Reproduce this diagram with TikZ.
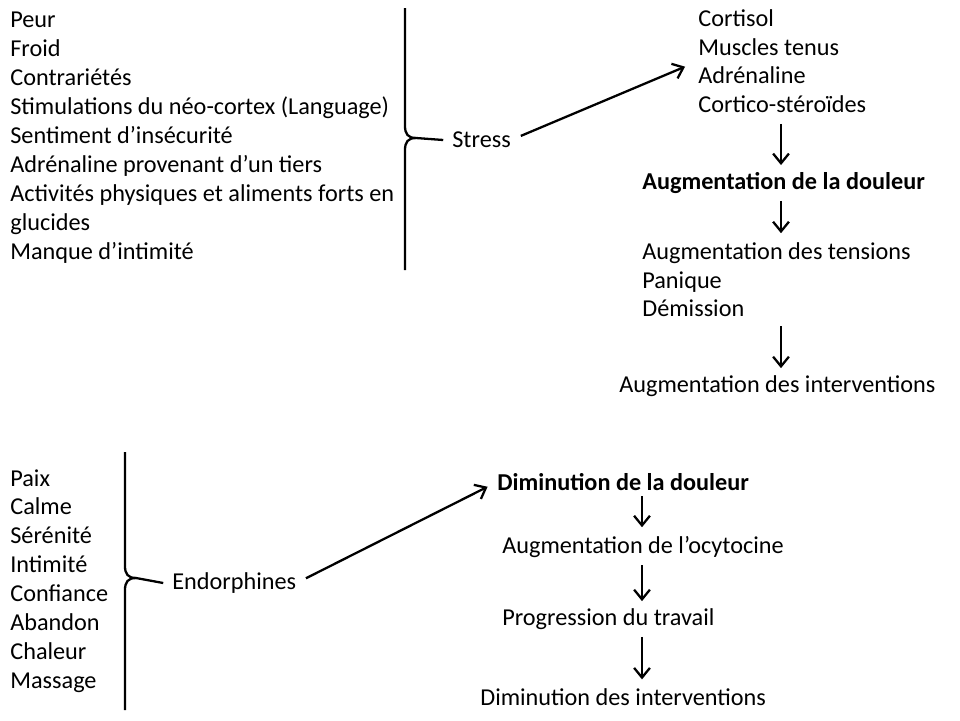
\documentclass[tikz,border=0pt]{standalone}
\usepackage{fontspec}
\setmainfont{Carlito}
\usetikzlibrary{positioning, arrows.meta, calc}
\tikzset{txt/.style={align=left, inner sep=0pt, font=\fontsize{13.8}{16.45}\selectfont},
  bold txt/.style={txt, font=\fontsize{13.8}{16.45}\selectfont\bfseries},
  link/.style={-{Straight Barb[length=5.5pt, width=9pt]}, line width=1.3pt},
  brace line/.style={line width=1.3pt},}

\begin{document}
\begin{tikzpicture}[x=0.02cm, y=-0.02cm]
				\useasboundingbox (0,0) rectangle (960,720);
				% Stress side
				\node[txt, anchor=north west] (causes) at (10,12) {Peur\\Froid\\Contrariétés\\Stimulations du néo-cortex (Language)\\Sentiment d’insécurité\\Adrénaline provenant d’un tiers\\Activités physiques et aliments forts en\\glucides\\Manque d’intimité};
				\node[txt, anchor=west] (stress) at (452,140) {Stress};
				\node[txt, anchor=north west] (hormones) at (698,9) {Cortisol\\Muscles tenus\\Adrénaline\\Cortico-stéroïdes};
				\node[bold txt, anchor=west] (augdouleur) at (642,183) {Augmentation de la douleur};
				\node[txt, anchor=north west] (tensions) at (642,242) {Augmentation des tensions\\Panique\\Démission};
				\node[txt, anchor=west] (auginterv) at (619,386) {Augmentation des interventions};
				\coordinate (colstress) at (781,0);
				% Endorphines side
				\node[txt, anchor=north west] (calm) at (10,469) {Paix\\Calme\\Sérénité\\Intimité\\Confiance\\Abandon\\Chaleur\\Massage};
				\node[txt, anchor=west] (endorph) at (172,583) {Endorphines};
				\node[bold txt, anchor=west] (dimdouleur) at (497,482) {Diminution de la douleur};
				\node[txt, anchor=west] (ocyto) at (502,547) {Augmentation de l’ocytocine};
				\node[txt, anchor=west] (travail) at (502,619) {Progression du travail};
				\node[txt, anchor=west] (diminterv) at (480,697) {Diminution des interventions};
				\coordinate (colendo) at (642,0);
				% Braces
				\draw[brace line] (405,8) -- (405,126) .. controls (405,134) and (408,138) .. (416,138) -- ([xshift=-5pt]stress.west);
				\draw[brace line] (405,270) -- (405,150) .. controls (405,142) and (408,138) .. (416,138);
				\draw[brace line] (125,452) -- (125,566) .. controls (125,574) and (128,578) .. (136,578) -- ([xshift=-5pt]endorph.west);
				\draw[brace line] (125,710) -- (125,590) .. controls (125,582) and (128,578) .. (136,578);
				% Paths
				\draw[link, shorten <=6pt, shorten >=8pt] (stress.east) -- (hormones.west);
				\draw[link, shorten <=6pt, shorten >=4pt] (hormones.south -| colstress) -- (augdouleur.north -| colstress);
				\draw[link, shorten <=4pt, shorten >=5pt] (augdouleur.south -| colstress) -- (tensions.north -| colstress);
				\draw[link, shorten <=5pt, shorten >=4pt] (tensions.south -| colstress) -- (auginterv.north -| colstress);
				\draw[link, shorten <=6pt, shorten >=6pt] (endorph.east) -- (dimdouleur.west);
				\draw[link, shorten <=3pt, shorten >=5pt] (dimdouleur.south -| colendo) -- (ocyto.north -| colendo);
				\draw[link, shorten <=4pt, shorten >=4pt] (ocyto.south -| colendo) -- (travail.north -| colendo);
				\draw[link, shorten <=4pt, shorten >=5pt] (travail.south -| colendo) -- (diminterv.north -| colendo);
			\end{tikzpicture}
\end{document}
